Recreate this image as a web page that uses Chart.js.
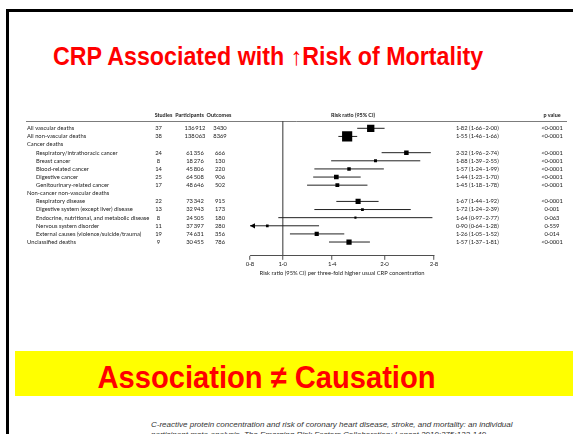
<!DOCTYPE html>
<html>
<head>
<meta charset="utf-8">
<script src="https://cdn.jsdelivr.net/npm/chart.js@4.4.1/dist/chart.umd.min.js"></script>
<style>
html,body{margin:0;padding:0;background:#fff;overflow:hidden;}
body{width:573px;height:434px;position:relative;font-family:"Liberation Sans",Arial,sans-serif;}
#frame{position:absolute;left:6px;top:9px;width:600px;height:500px;border-left:3px solid #000;border-top:3px solid #000;}
#title{position:absolute;left:0;width:536px;top:44px;text-align:center;color:#f00;font-weight:bold;font-size:25px;line-height:1;white-space:nowrap;transform:scaleX(0.93);transform-origin:268px 0;}
#banner{position:absolute;left:15px;width:558px;top:351px;height:45px;background:#ff0;}
#bannerText{position:absolute;left:0;width:533px;top:361px;text-align:center;color:#f00;font-weight:bold;font-size:32px;line-height:1;white-space:nowrap;transform:scaleX(0.91);transform-origin:266.5px 0;}
#cite{position:absolute;left:151px;top:420px;font-style:italic;font-size:8px;color:#333;line-height:9.5px;white-space:nowrap;}
#chartBox{position:absolute;left:0;top:100px;}
</style>
</head>
<body>
<div id="frame"></div>
<div id="title">CRP Associated with ↑Risk of Mortality</div>
<div id="banner"></div>
<div id="bannerText">Association ≠ Causation</div>
<div id="cite">C-reactive protein concentration and risk of coronary heart disease, stroke, and mortality: an individual<br>participant meta-analysis. The Emerging Risk Factors Collaboration; Lancet 2010;375:132-140</div>
<div id="chartBox"><canvas id="forest" width="573" height="177"></canvas></div>
<script>
// rows of the forest plot (two of them are group headings)
const rowLabels = [
    "All vascular deaths",
    "All non-vascular deaths",
    "Cancer deaths",
    "Respiratory/intrathoracic cancer",
    "Breast cancer",
    "Blood-related cancer",
    "Digestive cancer",
    "Genitourinary-related cancer",
    "Non-cancer non-vascular deaths",
    "Respiratory disease",
    "Digestive system (except liver) disease",
    "Endocrine, nutritional, and metabolic disease",
    "Nervous system disorder",
    "External causes (violence/suicide/trauma)",
    "Unclassified deaths"
];
const subItem = [false,false,false,true,true,true,true,true,false,true,true,true,true,true,false];
const studies = [37,38,null,24,8,14,25,17,null,22,13,8,11,19,9];
const participants = [136912,138063,null,61356,18276,45806,64508,48646,null,73342,32943,24505,37397,74631,30455];
const outcomes = [3430,8369,null,666,130,220,906,502,null,915,173,180,280,356,786];
const rr = [1.82,1.55,null,2.32,1.88,1.57,1.44,1.45,null,1.67,1.72,1.64,0.90,1.26,1.57];
const ciLow = [1.66,1.46,null,1.96,1.39,1.24,1.23,1.18,null,1.44,1.24,0.97,0.64,1.05,1.37];
const ciHigh = [2.00,1.66,null,2.74,2.55,1.99,1.70,1.78,null,1.92,2.39,2.77,1.28,1.52,1.81];
const pValues = ["<0·0001","<0·0001",null,"<0·0001","<0·0001","<0·0001","<0·0001","<0·0001",null,"<0·0001","0·001","0·063","0·559","0·014","<0·0001"];
const tickVals = [0.8,1.0,1.4,2.0,2.8];
const tickLabels = ["0·8","1·0","1·4","2·0","2·8"];

const FONT = "Lato";
const ink = "#222";

const dot = v => v.toFixed(2).replace(".", "·");
const thou = n => {
    const s = String(n);
    return s.length > 3 ? s.slice(0, -3) + "\u2009" + s.slice(-3) : s;
};
// box side grows with inverse-variance weight taken from the CI
function boxRadius(i){
    const se = (Math.log(ciHigh[i]) - Math.log(ciLow[i])) / (2 * 1.96);
    const side = 1 + 0.3 * Math.sqrt(1 / (se * se));
    return side / Math.SQRT2;
}

const rowsWithData = rr.map((v,i) => v == null ? -1 : i).filter(i => i >= 0);

const boxes = {
    data: rowsWithData.map(i => ({x: rr[i], y: i})),
    pointStyle: "rect",
    pointRadius: rowsWithData.map(boxRadius),
    backgroundColor: "#000",
    borderWidth: 0,
    showLine: false
};
const ciLines = rowsWithData.map(i => ({
    data: [{x: ciLow[i], y: i}, {x: ciHigh[i], y: i}],
    showLine: true,
    borderColor: ink,
    borderWidth: 1,
    pointRadius: 0
}));

const tablePlugin = {
    id: "tableText",
    afterDatasetsDraw(chart){
        const {ctx, chartArea, scales: {x, y}} = chart;
        ctx.save();
        ctx.fillStyle = ink;
        ctx.textBaseline = "middle";

        // header line
        ctx.strokeStyle = "#444";
        ctx.lineWidth = 0.7;
        ctx.beginPath();
        ctx.moveTo(26, chartArea.top + 0.5);
        ctx.lineTo(567, chartArea.top + 0.5);
        ctx.stroke();

        const hy = y.getPixelForValue(-1.6);
        ctx.font = `bold 5.4px ${FONT}`;
        ctx.textAlign = "center";
        ctx.fillText("Studies", 163.5, hy);
        ctx.fillText("Participants", 189.5, hy);
        ctx.fillText("Outcomes", 219, hy);
        ctx.fillText("Risk ratio (95% CI)", 353, hy);
        ctx.fillText("p value", 552, hy);

        ctx.font = `5.8px ${FONT}`;
        rowLabels.forEach((lab, i) => {
            const py = y.getPixelForValue(i);
            ctx.textAlign = "left";
            ctx.fillText(lab, subItem[i] ? 36 : 27, py);
            if(rr[i] == null) return;
            ctx.textAlign = "center";
            ctx.fillText(String(studies[i]), 158.5, py);
            ctx.fillText(thou(participants[i]), 195, py);
            ctx.fillText(String(outcomes[i]), 220, py);
            ctx.textAlign = "left";
            ctx.fillText(`${dot(rr[i])} (${dot(ciLow[i])}–${dot(ciHigh[i])})`, 456, py);
            ctx.textAlign = "center";
            ctx.fillText(pValues[i], 552, py);

            // arrow when the CI runs off the left of the axis
            if(ciLow[i] < x.min){
                const ax = x.getPixelForValue(x.min);
                ctx.fillStyle = "#000";
                ctx.beginPath();
                ctx.moveTo(ax, py);
                ctx.lineTo(ax + 5, py - 2.6);
                ctx.lineTo(ax + 5, py + 2.6);
                ctx.closePath();
                ctx.fill();
                ctx.fillStyle = ink;
            }
        });
        ctx.restore();
    }
};

new Chart(document.getElementById("forest"), {
    type: "scatter",
    data: {datasets: [boxes, ...ciLines]},
    options: {
        responsive: false,
        animation: false,
        layout: {padding: {left: 250, right: 139, top: 21, bottom: 0}},
        plugins: {legend: {display: false}, tooltip: {enabled: false}},
        scales: {
            x: {
                type: "logarithmic",
                min: 0.8,
                max: 2.8,
                afterBuildTicks: s => { s.ticks = tickVals.map(v => ({value: v})); },
                ticks: {
                    callback: (v, i) => tickLabels[i],
                    font: {family: FONT, size: 6},
                    color: ink,
                    padding: 1,
                    maxRotation: 0,
                    autoSkip: false
                },
                grid: {
                    drawOnChartArea: true,
                    color: c => (c.tick && c.tick.value === 1) ? "#777" : "rgba(0,0,0,0)",
                    lineWidth: 1.5,
                    tickColor: ink,
                    tickLength: 4,
                    tickWidth: 0.8
                },
                border: {display: true, color: ink, width: 0.8},
                title: {
                    display: true,
                    text: "Risk ratio (95% CI) per three-fold higher usual CRP concentration",
                    font: {family: FONT, size: 5.8},
                    color: ink,
                    padding: {top: 1, bottom: 0}
                }
            },
            y: {
                type: "linear",
                display: false,
                reverse: true,
                min: -0.9,
                max: 15.7
            }
        }
    },
    plugins: [tablePlugin]
});
</script>
</body>
</html>
